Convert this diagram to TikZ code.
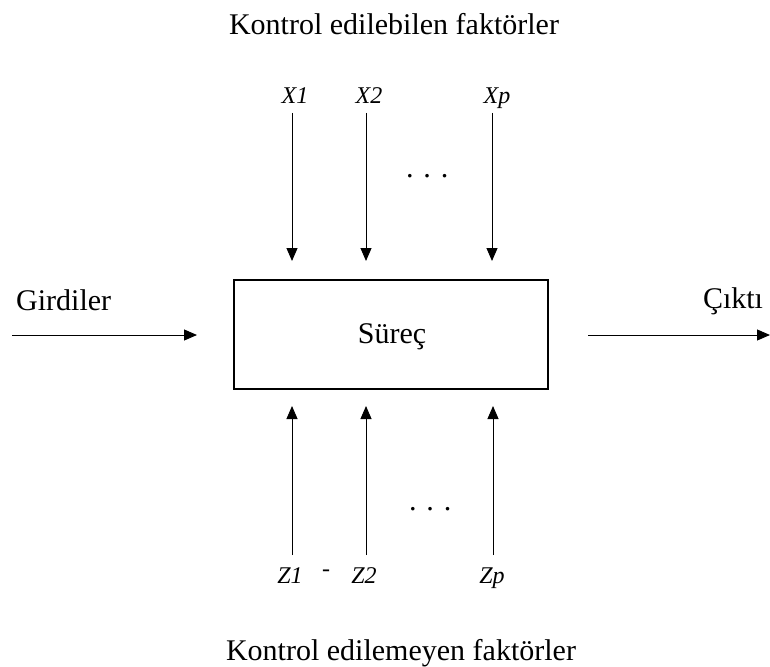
\documentclass[tikz,border=0pt]{standalone}
\usepackage{fontspec}
\setmainfont{Liberation Serif}
\usetikzlibrary{arrows.meta}
\begin{document}
\begin{tikzpicture}[x=1pt,y=-1pt,
  big/.style={font=\fontsize{30}{34}\selectfont, inner sep=0pt},
  lbl/.style={font=\fontsize{24}{28}\selectfont\itshape, inner sep=0pt},
  arr/.style={line width=1pt, -{Triangle[length=13pt,width=11pt]}},
  boxst/.style={draw, line width=1.3pt, minimum width=314pt, minimum height=109pt, inner sep=0pt}]
\useasboundingbox (0,0) rectangle (770,666);
% titles
\node[big, anchor=base] (ttop) at (394,35) {Kontrol edilebilen faktörler};
\node[big, anchor=base] (tbot) at (401,660) {Kontrol edilemeyen faktörler};
% box
\node[boxst] (box) at (391,334.5) {};
\node[big, anchor=base] (sur) at (392,343) {Süreç};
% inputs/outputs
\node[big, anchor=base west] (gir) at (16,310) {Girdiler};
\node[big, anchor=base] (cik) at (733,308) {Çıktı};
\coordinate (gs) at (12,335);
\coordinate (ge) at (197,335);
\coordinate (cs) at (588,335);
\coordinate (ce) at (770,335);
\draw[arr] (gs) -- (ge);
\draw[arr] (cs) -- (ce);
% X labels
\node[lbl, anchor=base] (x1) at (295,103) {X1};
\node[lbl, anchor=base] (x2) at (369,103) {X2};
\node[lbl, anchor=base] (xp) at (497,103) {Xp};
\coordinate (x1s) at (292,113); \coordinate (x1e) at (292,261);
\coordinate (x2s) at (366,113); \coordinate (x2e) at (366,261);
\coordinate (xps) at (492,113); \coordinate (xpe) at (492,261);
\draw[arr] (x1s) -- (x1e);
\draw[arr] (x2s) -- (x2e);
\draw[arr] (xps) -- (xpe);
\node[lbl, anchor=base, font=\fontsize{30}{34}\selectfont\itshape] (dtop) at (428,177) {. . .};
% Z labels
\node[lbl, anchor=base] (z1) at (290,583) {Z1};
\node[lbl, anchor=base] (z2) at (364,583) {Z2};
\node[lbl, anchor=base] (zp) at (492,583) {Zp};
\node[lbl] (dash) at (326,573) {-};
\coordinate (z1s) at (292,555); \coordinate (z1e) at (292,406);
\coordinate (z2s) at (366,555); \coordinate (z2e) at (366,406);
\coordinate (zps) at (493,555); \coordinate (zpe) at (493,406);
\draw[arr] (z1s) -- (z1e);
\draw[arr] (z2s) -- (z2e);
\draw[arr] (zps) -- (zpe);
\node[lbl, anchor=base, font=\fontsize{30}{34}\selectfont\itshape] (dbot) at (431,510) {. . .};
\end{tikzpicture}
\end{document}
